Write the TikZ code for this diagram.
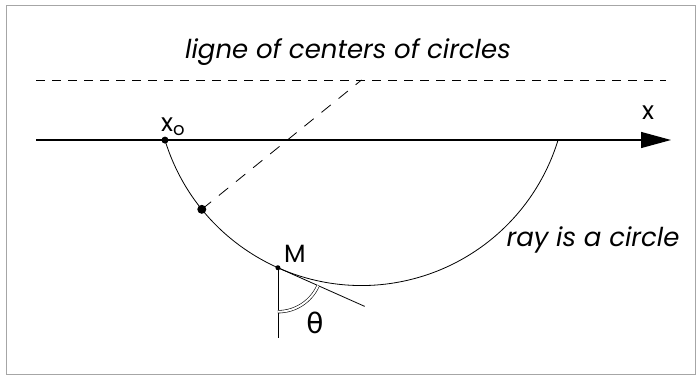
\documentclass[tikz,border=0pt]{standalone}
\usepackage{fontspec}
\setmainfont{Poppins}
\newfontfamily\greekfont{DejaVu Sans}
\usetikzlibrary{arrows.meta,calc}
\begin{document}
\begin{tikzpicture}[x=1pt,y=1pt,
  lbl/.style={font=\fontsize{26}{28}\selectfont\itshape, inner sep=0pt},
  uplbl/.style={font=\fontsize{25}{27}\selectfont, inner sep=0pt},
  ray/.style={line width=0.8pt},
  dashline/.style={line width=0.8pt, dash pattern=on 9pt off 7pt},
  raddash/.style={line width=0.8pt, dash pattern=on 12pt off 10pt},
  dotmark/.style={circle, fill=black, inner sep=0pt}
]
\useasboundingbox (0,0) rectangle (700,376);
\draw[gray!70, line width=0.8pt] (6,2) rectangle (695,371);

% geometry
\coordinate (C) at (361.5,296);
\coordinate (ax0) at (36,236);
\coordinate (ax1) at (671,236);
\coordinate (lc0) at (36,296);
\coordinate (lc1) at (666,296);
\coordinate (X0) at ($(C)+(197:205.5)$);

% line of centers
\draw[dashline] (lc0) -- (lc1);
\node[lbl] (title) at (348,324) {ligne of centers of circles};

% axis
\draw[line width=1.2pt, -{Triangle[length=30pt,width=16pt]}] (ax0) -- (ax1);
\node[uplbl] (xlab) at (648,263) {x};

% the ray (circle arc)
\draw[ray] (C) ++(197:205.5) arc[start angle=197, end angle=343, radius=205.5];

\coordinate (P) at ($(C)+(219:205.5)$);
\coordinate (M) at ($(C)+(246:205.5)$);
\coordinate (Mdown) at ($(M)+(0,-70)$);
\coordinate (Mtan) at ($(M)+(336:95)$);

% dashed radius
\draw[raddash] (P) -- (C);

% points
\node[dotmark, minimum size=7pt] (x0dot) at (X0) {};
\node[dotmark, minimum size=9pt] (pdot) at (P) {};
\node[dotmark, minimum size=5pt] (mdot) at (M) {};

\node[uplbl, anchor=south west] (x0lab) at ($(X0)+(-4,4)$) {x\raisebox{-4pt}{\fontsize{18}{20}\selectfont o}};
\node[uplbl, anchor=south west] (mlab) at ($(M)+(6,5)$) {M};

% angle
\draw[ray] (mdot.center) -- (Mdown);
\draw[ray] (mdot.center) -- (Mtan);
\draw[line width=0.6pt, double, double distance=2pt] ($(M)+(270:44)$) arc[start angle=270, end angle=336, radius=44];
\node[font=\fontsize{28}{30}\selectfont\greekfont, inner sep=0pt] (theta) at (315,53) {θ};

\node[lbl] (raylab) at (593,136) {ray is a circle};
\end{tikzpicture}
\end{document}
